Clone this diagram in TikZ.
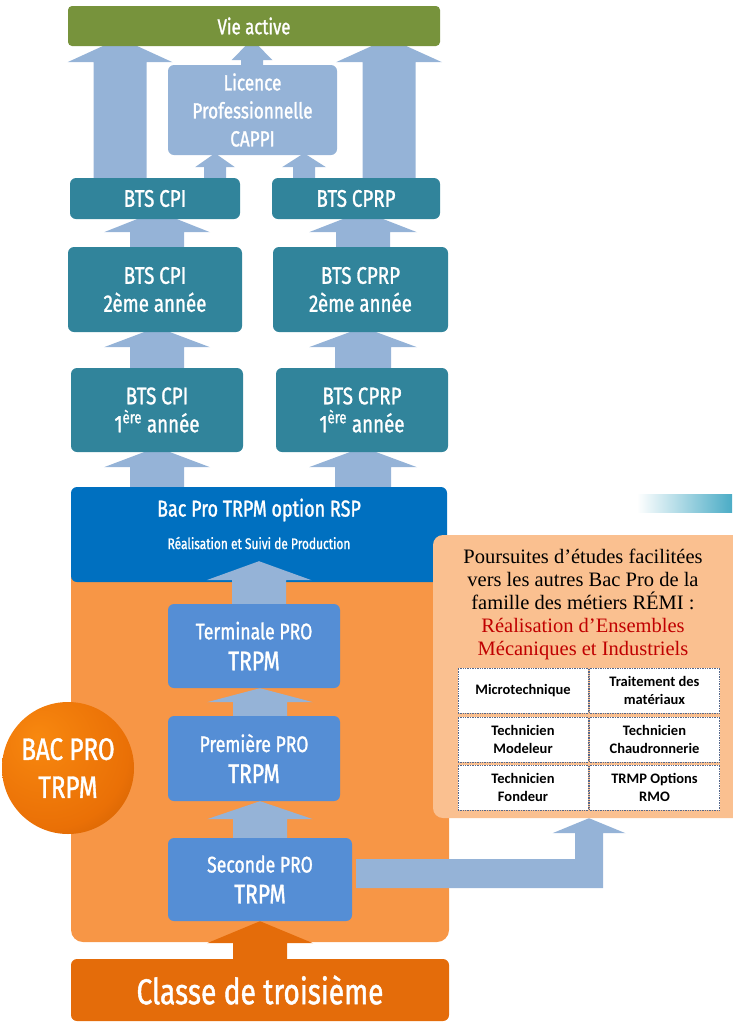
\documentclass[tikz,border=0pt]{standalone}
\usepackage{fontspec}
\usepackage{tikz}
\usetikzlibrary{calc,shapes}
\setmainfont{Liberation Serif}
\newfontfamily\agency[FakeStretch=0.78,FakeBold=1.2]{Fira Sans}
\newfontfamily\calibri{Carlito}
\definecolor{vert}{HTML}{77933C}
\definecolor{bleucanard}{HTML}{31849B}
\definecolor{bleuclair}{HTML}{95B3D7}
\definecolor{bleubac}{HTML}{0070C0}
\definecolor{bleupro}{HTML}{558ED5}
\definecolor{orangefond}{HTML}{F79646}
\definecolor{orangefonce}{HTML}{E46C0A}
\definecolor{peche}{HTML}{FAC090}
\definecolor{rougeremi}{HTML}{C00000}
\definecolor{bordtab}{HTML}{55688C}
\definecolor{turquoise}{HTML}{4BACC6}
\definecolor{boulec}{HTML}{F8880F}
\definecolor{bouleb}{HTML}{EA7006}
\definecolor{boulef}{HTML}{A84A00}
\pgfdeclareradialshading{boule}{\pgfpoint{-12bp}{12bp}}{color(0bp)=(boulec); color(30bp)=(bouleb); color(56bp)=(boulef); color(75bp)=(boulef)}
\pgfdeclarelayer{fond}
\pgfdeclarelayer{fleches}
\pgfsetlayers{fond,fleches,main}
\newcommand{\arrondi}{6pt}
\newcommand{\fleche}[7][bleuclair]{%
  \fill[#1] let \p1=(#3), \p2=(#4), \p3=(#2,0) in
    (\x3-#5,\y1) -- (\x3-#5,\y2-#7) -- (\x3-#6,\y2-#7) -- (\x3,\y2)
    -- (\x3+#6,\y2-#7) -- (\x3+#5,\y2-#7) -- (\x3+#5,\y1) -- cycle;}

\begin{document}
\begin{tikzpicture}[x=1pt,y=-1pt]
    \tikzset{
        boite/.style={rectangle, rounded corners=\arrondi, inner sep=0pt, align=center, text=white},
        bts/.style={boite, fill=bleucanard, font=\agency\fontsize{24}{28}\selectfont},
        pro/.style={boite, fill=bleupro, minimum width=172, minimum height=84, font=\agency\fontsize{22.6}{31}\selectfont},
        cellule/.style={rectangle, fill=white, draw=bordtab, densely dotted, line width=0.7pt,
            minimum width=130, minimum height=45, inner sep=0pt, align=center,
            font=\calibri\bfseries\fontsize{14.5}{18}\selectfont}
    }
    \useasboundingbox (0,0) rectangle (732,1023);
    \begin{pgfonlayer}{fond}
        \node[boite, fill=orangefond, rounded corners=12pt, minimum width=378, minimum height=402] (zonetrpm) at (260,741) {};
    \end{pgfonlayer}

    \node[boite, fill=vert, minimum width=372, minimum height=40, rounded corners=4pt,
        font=\agency\fontsize{21.5}{24}\selectfont] (vie) at (254,26) {Vie active};
    \node[boite, fill=bleuclair, minimum width=169, minimum height=90,
        font=\agency\fontsize{22}{28}\selectfont] (licence) at (252.5,110) {Licence\\Professionnelle\\CAPPI};
    \node[bts, minimum width=170, minimum height=41] (bts1) at (155,198.5) {BTS CPI};
    \node[bts, minimum width=168, minimum height=41] (bts2) at (356,198.5) {BTS CPRP};
    \node[bts, minimum width=174, minimum height=85] (cpi2) at (155,289.5) {BTS CPI\\2ème année};
    \node[bts, minimum width=175, minimum height=85] (cprp2) at (360.5,289.5) {BTS CPRP\\2ème année};
    \node[bts, minimum width=172, minimum height=84] (cpi1) at (157,410) {BTS CPI\\1\textsuperscript{ère} année};
    \node[bts, minimum width=172, minimum height=84] (cprp1) at (362,410) {BTS CPRP\\1\textsuperscript{ère} année};

    \node[boite, fill=bleubac, minimum width=376, minimum height=95] (bacpro) at (259,534.5) {};
    \node[text=white, font=\agency\fontsize{23}{26}\selectfont] (bactitre) at (259,510) {Bac Pro TRPM option RSP};
    \node[text=white, font=\agency\fontsize{15.3}{17}\selectfont] (bacsous) at (259,543) {Réalisation et Suivi de Production};

    \node[pro] (term) at (254,646) {Terminale PRO\\{\fontsize{27}{31}\selectfont TRPM}};
    \node[pro, minimum height=85] (prem) at (254,758.5) {Première PRO\\{\fontsize{27}{31}\selectfont TRPM}};
    \node[pro, minimum width=184, minimum height=83] (sec) at (260,879.5) {Seconde PRO\\{\fontsize{27}{31}\selectfont TRPM}};
    \node[boite, fill=orangefonce, minimum width=378, minimum height=62,
        font=\agency\fontsize{36}{40}\selectfont] (classe) at (260,990) {Classe de troisième};

    \node[left color=white, right color=turquoise, minimum width=95, minimum height=18, inner sep=0pt] (deco) at (684.5,503) {};

    \node[boite, fill=peche, rounded corners=10pt, minimum width=327, minimum height=283] (remi) at (596.5,676.5) {};
    \node[inner sep=0pt, anchor=north, align=center, font=\fontsize{20.5}{23}\selectfont] (poursuite) at (583,549)
        {Poursuites d’études facilitées\\vers les autres Bac Pro de la\\famille des métiers RÉMI :\\
        \textcolor{rougeremi}{Réalisation d’Ensembles}\\\textcolor{rougeremi}{Mécaniques et Industriels}};
    \node[cellule] (microtech) at (523,690.5) {Microtechnique};
    \node[cellule] (traitement) at (654.5,690.5) {Traitement des\\matériaux};
    \node[cellule] (modeleur) at (523,739.5) {Technicien\\Modeleur};
    \node[cellule] (chaudron) at (654.5,739.5) {Technicien\\Chaudronnerie};
    \node[cellule] (fondeur) at (523,787.5) {Technicien\\Fondeur};
    \node[cellule] (trmp) at (654.5,787.5) {TRMP Options\\RMO};

    \begin{pgfonlayer}{fleches}
        \fleche{120}{bts1.north}{$(vie.south)+(0,-8)$}{26.5pt}{52.5pt}{24pt}
        \fleche{389}{bts2.north}{$(vie.south)+(0,-8)$}{26.5pt}{53pt}{24pt}
        \fleche{252}{licence.north}{$(vie.south)+(0,-7)$}{11pt}{20.5pt}{21pt}
        \fleche{215}{bts1.north}{$(licence.south)+(0,-2)$}{11pt}{20pt}{14pt}
        \fleche{304}{bts2.north}{$(licence.south)+(0,-2)$}{11pt}{22pt}{14pt}
        \fleche{157}{cpi2.north}{$(bts1.south)+(0,-8)$}{27pt}{53pt}{21pt}
        \fleche{363}{cprp2.north}{$(bts2.south)+(0,-8)$}{27pt}{54pt}{21pt}
        \fleche{157}{cpi1.north}{$(cpi2.south)+(0,-5)$}{27pt}{53pt}{20pt}
        \fleche{363}{cprp1.north}{$(cprp2.south)+(0,-5)$}{28pt}{54pt}{20pt}
        \fleche{157}{bacpro.north}{$(cpi1.south)+(0,-5)$}{27pt}{53pt}{20pt}
        \fleche{363}{bacpro.north}{$(cprp1.south)+(0,-5)$}{28pt}{54pt}{20pt}
        \fleche{260}{prem.north}{term.south}{27pt}{53pt}{14pt}
        \fleche{260}{sec.north}{prem.south}{27pt}{53pt}{18pt}
        \fleche[orangefonce]{260}{classe.north}{sec.south}{27pt}{53pt}{22pt}
        \coordinate (depart) at ($(sec.east)+(4,-6)$);
        \fill[bleuclair] let \p1=(depart), \p2=(remi.south -| 589,0) in
            (\x1,\y1+14.5pt) -- (\x2-14pt,\y1+14.5pt) -- (\x2-14pt,\y2-15pt) -- (\x2-36.5pt,\y2-15pt)
            -- (\x2,\y2) -- (\x2+36.5pt,\y2-15pt) -- (\x2+14pt,\y2-15pt) -- (\x2+14pt,\y1-14.5pt)
            -- (\x1,\y1-14.5pt) -- cycle;
    \end{pgfonlayer}
    \fleche{259}{term.north}{$(bacpro.south)+(0,-21)$}{27pt}{52.5pt}{19pt}

    \node[circle, minimum size=132, inner sep=0pt, shade, shading=boule, text=white, align=center,
        font=\agency\fontsize{31}{38}\selectfont] (bacprotrpm) at (68,768) {BAC PRO\\TRPM};
\end{tikzpicture}
\end{document}
